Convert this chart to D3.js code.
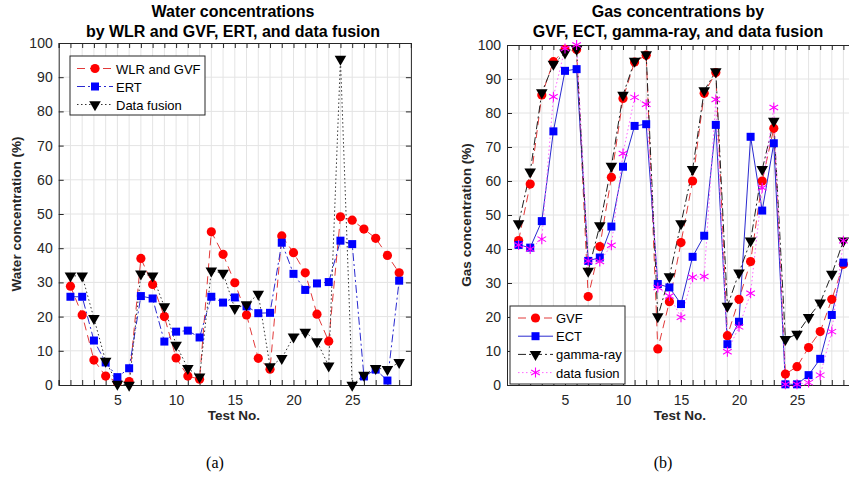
<!DOCTYPE html>
<html>
<head>
<meta charset="utf-8">
<script src="https://cdn.jsdelivr.net/npm/d3@7"></script>
<style>
  body { margin: 0; background: #fff; }
  text { font-family: "Liberation Sans", Arial, sans-serif; }
</style>
</head>
<body>
<svg id="fig" width="849" height="479"></svg>
<script>
// test numbers 1..29
const tests = d3.range(1, 30);

// (a) water concentrations (%)
const waterWlrGvf = [28.9, 20.5, 7.3, 2.6, 0.8, 1.0, 37.0, 29.4, 20.0, 7.9, 2.6, 1.7, 44.8, 38.2, 29.9,
  20.5, 7.8, 4.6, 43.6, 38.7, 32.8, 20.7, 12.8, 49.2, 48.2, 45.6, 42.9, 37.9, 32.8];
const waterErt = [25.8, 25.8, 13.0, 6.6, 2.3, 4.9, 26.0, 25.3, 12.7, 15.6, 15.9, 13.9, 25.8, 24.1, 25.6,
  23.0, 21.0, 21.1, 41.6, 32.5, 27.8, 29.7, 30.1, 42.2, 41.2, 2.5, 4.5, 1.3, 30.5];
const waterFusion = [31.9, 31.9, 19.5, 7.0, 0.3, 0, 32.5, 31.9, 22.9, 11.7, 4.9, 2.4, 33.4, 32.7, 22.4,
  23.5, 26.6, 5.4, 7.8, 14.1, 15.5, 12.7, 5.6, 95.3, 0, 2.9, 4.9, 4.6, 6.6];

// (b) gas concentrations (%)
const gasGvf = [42.5, 59.1, 85.3, 95.1, 98.7, 98.7, 26.0, 40.7, 61.1, 84.3, 95.0, 97.0, 10.6, 24.5, 41.9,
  60.0, 85.8, 91.9, 14.5, 25.2, 36.3, 60.0, 75.5, 3.2, 5.4, 11.0, 15.7, 25.2, 35.5];
const gasEct = [41.2, 40.4, 48.2, 74.6, 92.4, 92.9, 36.5, 37.5, 46.6, 64.2, 76.2, 76.7, 29.7, 28.7, 23.8,
  37.7, 43.9, 76.5, 12.0, 18.6, 73.0, 51.3, 71.1, 0.2, 0.2, 2.9, 7.7, 20.6, 36.0];
const gasGamma = [47.5, 62.7, 86.0, 94.4, 97.7, 98.8, 33.5, 46.9, 64.4, 85.3, 95.3, 97.2, 20.1, 31.9, 47.5,
  63.4, 86.6, 92.2, 23.2, 33.0, 42.4, 63.4, 77.6, 13.4, 15.0, 19.9, 24.2, 32.6, 42.4];
const gasFusion = [41.2, 40.0, 42.9, 84.8, 99.0, 100, 36.5, 36.3, 41.1, 68.1, 84.6, 82.6, 28.7, 26.2, 19.9,
  31.7, 31.9, 84.0, 9.8, 17.1, 27.0, 58.0, 81.6, 0.2, 0.2, 0.7, 2.9, 15.7, 42.4];

const yTicks = d3.range(0, 101, 10);

const svg = d3.select('#fig');

function marker(sel, type, color) {
    if (type === 'circle') {
        sel.append('circle').attr('r', 4.6).attr('fill', color);
    } else if (type === 'square') {
        sel.append('rect').attr('x', -4).attr('y', -4).attr('width', 8).attr('height', 8).attr('fill', color);
    } else if (type === 'tri') {
        sel.append('path').attr('d', d3.symbol(d3.symbolTriangle, 58)()).attr('transform', 'rotate(180)').attr('fill', color);
    } else if (type === 'star') {
        sel.append('path').attr('d', d3.symbol(d3.symbolAsterisk, 70)()).attr('fill', 'none')
            .attr('stroke', color).attr('stroke-width', 1.1);
    }
}

function drawPanel(opt) {
    let x = d3.scaleLinear().domain([0, 30]).range([opt.left, opt.left + 30 * opt.unit]);
    let y = d3.scaleLinear().domain([0, 100]).range([opt.bottom, opt.top]);
    let g = svg.append('g');

    // grid
    g.append('g').selectAll('line').data(d3.range(1, 30)).join('line')
        .attr('x1', d => x(d)).attr('x2', d => x(d))
        .attr('y1', y(0)).attr('y2', y(100))
        .attr('stroke', '#e4e4e4').attr('stroke-width', 1);
    g.append('g').selectAll('line').data(yTicks.slice(1, -1)).join('line')
        .attr('x1', x(0)).attr('x2', x(30))
        .attr('y1', d => y(d)).attr('y2', d => y(d))
        .attr('stroke', '#e4e4e4').attr('stroke-width', 1);

    // axes (ticks inside, box style)
    let tickFmt = d => (d % 5 === 0 && d > 0 && d < 30) ? d : '';
    let bottomAxis = g.append('g').attr('transform', `translate(0,${y(0)})`)
        .call(d3.axisBottom(x).tickValues(d3.range(0, 31)).tickSize(-5).tickPadding(10).tickFormat(tickFmt));
    let topAxis = g.append('g').attr('transform', `translate(0,${y(100)})`)
        .call(d3.axisTop(x).tickValues(d3.range(0, 31)).tickSize(-5).tickFormat(''));
    let leftAxis = g.append('g').attr('transform', `translate(${x(0)},0)`)
        .call(d3.axisLeft(y).tickValues(yTicks).tickSize(-5).tickPadding(6));
    let rightAxis = g.append('g').attr('transform', `translate(${x(30)},0)`)
        .call(d3.axisRight(y).tickValues(yTicks).tickSize(-5).tickFormat(''));
    [bottomAxis, topAxis, leftAxis, rightAxis].forEach(a => {
        a.select('.domain').attr('stroke', '#262626');
        a.selectAll('.tick line').attr('stroke', '#262626');
        a.selectAll('.tick text').attr('fill', '#262626').style('font-size', '14px')
            .style('font-family', '"Liberation Sans", Arial, sans-serif');
    });

    // series
    let line = d3.line().x((d, i) => x(tests[i])).y(d => y(d));
    opt.series.forEach(s => {
        g.append('path').datum(s.values).attr('d', line)
            .attr('fill', 'none').attr('stroke', s.lineColor).attr('stroke-width', 1)
            .attr('stroke-dasharray', s.dash);
    });
    opt.series.forEach(s => {
        g.append('g').selectAll('g').data(s.values).join('g')
            .attr('transform', (d, i) => `translate(${x(tests[i])},${y(d)})`)
            .each(function () { marker(d3.select(this), s.marker, s.color); });
    });

    // titles and labels
    opt.title.forEach((t, i) => {
        g.append('text').attr('x', opt.titleX).attr('y', 17 + i * 20).attr('text-anchor', 'middle')
            .style('font-size', '16px').style('font-weight', 'bold').attr('fill', '#000').text(t);
    });
    g.append('text').attr('x', opt.xLabelX).attr('y', 420).attr('text-anchor', 'middle')
        .style('font-size', '13.5px').style('font-weight', 'bold').attr('fill', '#262626').text('Test No.');
    g.append('text').attr('transform', `translate(${opt.yLabelX},${(opt.top + opt.bottom) / 2}) rotate(-90)`)
        .attr('text-anchor', 'middle').style('font-size', '13.5px').style('font-weight', 'bold')
        .attr('fill', '#262626').text(opt.yLabel);
    g.append('text').attr('x', opt.captionX).attr('y', 468).attr('text-anchor', 'middle')
        .style('font-family', '"Liberation Serif", "DejaVu Serif", serif').style('font-size', '16px')
        .attr('fill', '#000').text(opt.caption);

    // legend
    let lg = opt.legend;
    g.append('rect').attr('x', lg.x).attr('y', lg.y).attr('width', lg.w).attr('height', lg.h)
        .attr('fill', '#fff').attr('stroke', '#262626').attr('stroke-width', 1);
    opt.series.forEach((s, i) => {
        let ey = lg.y + lg.first + i * lg.step;
        g.append('line').attr('x1', lg.x + lg.l0).attr('x2', lg.x + lg.l1).attr('y1', ey).attr('y2', ey)
            .attr('stroke', s.lineColor).attr('stroke-width', 1).attr('stroke-dasharray', s.dash);
        let m = g.append('g').attr('transform', `translate(${lg.x + (lg.l0 + lg.l1) / 2},${ey})`);
        marker(m, s.marker, s.color);
        g.append('text').attr('x', lg.x + lg.tx).attr('y', ey + 5).style('font-size', '13px')
            .attr('fill', '#000').text(s.name);
    });
}

drawPanel({
    left: 58.7, unit: 11.74, top: 43, bottom: 385,
    titleX: 233, xLabelX: 234, yLabelX: 21, captionX: 215,
    title: ['Water concentrations', 'by WLR and GVF, ERT, and data fusion'],
    yLabel: 'Water concentration (%)', caption: '(a)',
    legend: {x: 70, y: 56, w: 135, h: 59, first: 12.5, step: 18, l0: 7, l1: 43, tx: 46},
    series: [
        {name: 'WLR and GVF', values: waterWlrGvf, color: '#ff0000', lineColor: '#e23a3a', dash: '8,5', marker: 'circle'},
        {name: 'ERT', values: waterErt, color: '#0000ff', lineColor: '#2a2ad0', dash: '8,3,2,3', marker: 'square'},
        {name: 'Data fusion', values: waterFusion, color: '#000000', lineColor: '#333333', dash: '1.5,2.5', marker: 'tri'}
    ]
});

drawPanel({
    left: 507, unit: 11.6, top: 45, bottom: 385,
    titleX: 678, xLabelX: 680, yLabelX: 471, captionX: 663,
    title: ['Gas concentrations by', 'GVF, ECT, gamma-ray, and data fusion'],
    yLabel: 'Gas concentration (%)', caption: '(b)',
    legend: {x: 510, y: 306, w: 115, h: 78, first: 12, step: 18.2, l0: 8, l1: 43, tx: 46},
    series: [
        {name: 'GVF', values: gasGvf, color: '#ff0000', lineColor: '#e23a3a', dash: '8,5', marker: 'circle'},
        {name: 'ECT', values: gasEct, color: '#0000ff', lineColor: '#2a2ad0', dash: null, marker: 'square'},
        {name: 'gamma-ray', values: gasGamma, color: '#000000', lineColor: '#222222', dash: '8,3,2,3', marker: 'tri'},
        {name: 'data fusion', values: gasFusion, color: '#ff00ff', lineColor: '#ff66ff', dash: '1.5,2.5', marker: 'star'}
    ]
});
</script>
</body>
</html>
